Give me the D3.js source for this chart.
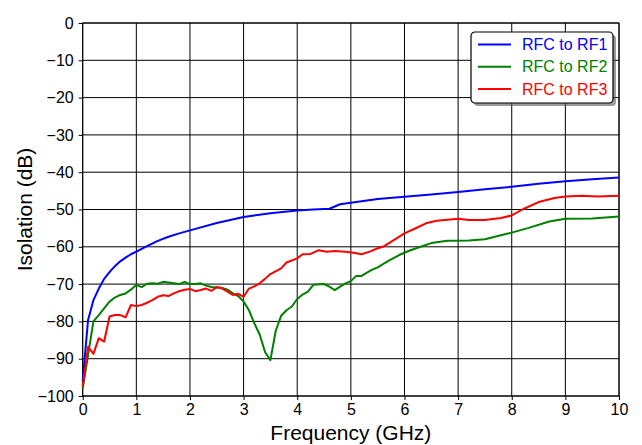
<!DOCTYPE html>
<html>
<head>
<meta charset="utf-8">
<script src="https://cdn.jsdelivr.net/npm/d3@7"></script>
<style>
  body { margin: 0; background: #fff; }
  svg { font-family: Arial, 'Liberation Sans', sans-serif; }
</style>
</head>
<body>
<svg id="chart" width="642" height="445"></svg>
<script>
const xTicks = [0, 1, 2, 3, 4, 5, 6, 7, 8, 9, 10];
const yTicks = [0, -10, -20, -30, -40, -50, -60, -70, -80, -90, -100];

const seriesNames = ['RFC to RF1', 'RFC to RF2', 'RFC to RF3'];
const seriesColors = ['#0000ff', '#008000', '#ff0000'];

const freqRF1 = [0, 0.1, 0.2, 0.3, 0.4, 0.5, 0.6, 0.7, 0.8, 0.9, 1.0, 1.2, 1.4, 1.6, 1.8, 2.0,
  2.5, 3.0, 3.5, 4.0, 4.3, 4.6, 4.8, 5.0, 5.5, 6.0, 6.5, 7.0, 7.5, 8.0, 8.5, 9.0, 9.5, 10];
const isoRF1 = [-96, -79.6, -74.3, -71.2, -68.6, -66.8, -65.2, -63.9, -62.9, -62, -61.3, -59.8, -58.4, -57.3, -56.4, -55.6,
  -53.6, -52, -51, -50.3, -50, -49.8, -48.6, -48.2, -47.2, -46.6, -46, -45.3, -44.6, -43.9, -43.1, -42.4, -41.9, -41.4];

const freqRF2 = [0, 0.1, 0.2, 0.3, 0.4, 0.5, 0.6, 0.7, 0.8, 0.9, 1.0, 1.1, 1.2, 1.3, 1.4, 1.5, 1.6, 1.7, 1.8, 1.9,
  2.0, 2.1, 2.2, 2.3, 2.4, 2.5, 2.6, 2.7, 2.8, 2.9, 3.0, 3.1, 3.2, 3.3, 3.4, 3.5, 3.6, 3.7, 3.8, 3.9,
  4.0, 4.1, 4.2, 4.3, 4.5, 4.6, 4.7, 4.8, 4.9, 5.0, 5.1, 5.2, 5.3, 5.4, 5.5, 5.7, 5.9, 6.1, 6.3, 6.5,
  6.8, 7.2, 7.5, 7.8, 8.0, 8.3, 8.7, 9.0, 9.5, 10];
const isoRF2 = [-98, -89, -80, -78.3, -76.5, -74.7, -73.6, -72.9, -72.5, -71.5, -70.2, -70.8, -69.9, -69.8, -69.9, -69.4, -69.6, -69.8, -70, -69.4,
  -70, -70, -69.8, -70.4, -70.8, -70.9, -71, -71.5, -72.5, -73.2, -74.7, -77, -80.5, -83.5, -88.2, -90.4, -82.5, -78.5, -77, -76,
  -74, -72.8, -72, -70.2, -70, -70.7, -71.6, -70.7, -69.8, -69.2, -67.8, -67.8, -66.9, -66.1, -65.5, -63.8, -62.2, -61, -60, -59,
  -58.4, -58.3, -58, -56.9, -56.2, -55, -53.2, -52.5, -52.4, -51.9];

const freqRF3 = [0, 0.1, 0.2, 0.3, 0.4, 0.5, 0.6, 0.7, 0.8, 0.9, 1.0, 1.1, 1.2, 1.3, 1.4, 1.5, 1.6, 1.7, 1.8, 1.9,
  2.0, 2.1, 2.2, 2.3, 2.4, 2.5, 2.6, 2.7, 2.8, 2.9, 3.0, 3.1, 3.2, 3.3, 3.4, 3.5, 3.7, 3.8, 4.0, 4.1,
  4.25, 4.4, 4.55, 4.7, 4.9, 5.05, 5.2, 5.35, 5.5, 5.6, 5.8, 6.0, 6.2, 6.4, 6.6, 7.0, 7.2, 7.5, 7.8, 8.0,
  8.2, 8.5, 8.8, 9.0, 9.3, 9.6, 10];
const isoRF3 = [-97.5, -86.8, -88.7, -84.5, -85.4, -78.7, -78.3, -78.3, -78.9, -75.6, -75.9, -75.6, -75, -74.3, -73.4, -73, -73.2, -72.5, -71.9, -71.5,
  -71.3, -71.9, -71.6, -71.2, -71.8, -70.8, -71.2, -72, -72.9, -72.6, -73.4, -71.2, -70.6, -69.8, -68.6, -67.3, -65.8, -64.2, -63.1, -62,
  -61.9, -60.9, -61.3, -61.1, -61.3, -61.6, -62, -61.3, -60.4, -60, -58.2, -56.4, -55.1, -53.7, -53, -52.5, -52.8, -52.8, -52.3, -51.6,
  -50, -48, -46.9, -46.5, -46.3, -46.5, -46.3];

const series = [
  { freq: freqRF1, iso: isoRF1 },
  { freq: freqRF2, iso: isoRF2 },
  { freq: freqRF3, iso: isoRF3 }
];

const svg = d3.select('#chart');
const marginLeft = 82.7;
const marginTop = 23;
const width = 619 - marginLeft;
const height = 396 - marginTop;

const chart = svg.append('g')
  .attr('transform', `translate(${marginLeft}, ${marginTop})`);

const xRange = d3.scaleLinear().domain([0, 10]).range([0, width]);
const yRange = d3.scaleLinear().domain([-100, 0]).range([height, 0]);

// grid
chart.append('g')
  .selectAll('line')
  .data(xTicks)
  .enter()
  .append('line')
  .attr('x1', d => xRange(d)).attr('x2', d => xRange(d))
  .attr('y1', 0).attr('y2', height)
  .style('stroke', '#000').style('stroke-width', 1);

chart.append('g')
  .selectAll('line')
  .data(yTicks)
  .enter()
  .append('line')
  .attr('y1', d => yRange(d)).attr('y2', d => yRange(d))
  .attr('x1', 0).attr('x2', width)
  .style('stroke', '#000').style('stroke-width', 1);

// axes
const xAxis = chart.append('g')
  .attr('transform', `translate(0, ${height})`)
  .call(d3.axisBottom(xRange).tickValues(xTicks).tickSize(4).tickPadding(4).tickFormat(d3.format('d')));

const yAxis = chart.append('g')
  .call(d3.axisLeft(yRange).tickValues(yTicks).tickSize(4).tickPadding(5).tickFormat(d => d === 0 ? '0' : '\u2212' + Math.abs(d)));

[xAxis, yAxis].forEach(ax => {
  ax.select('.domain').remove();
  ax.selectAll('text').style('font-size', '16px').style('fill', '#000')
    .style('font-family', "Arial, 'Liberation Sans', sans-serif");
  ax.selectAll('line').style('stroke', '#000');
});

chart.append('rect')
  .attr('width', width).attr('height', height)
  .style('fill', 'none').style('stroke', '#000').style('stroke-width', 1);

// curves
const line = d3.line()
  .x(d => xRange(d[0]))
  .y(d => yRange(d[1]));

series.forEach((s, i) => {
  chart.append('path')
    .datum(s.freq.map((f, k) => [f, s.iso[k]]))
    .attr('d', line)
    .style('fill', 'none')
    .style('stroke', seriesColors[i])
    .style('stroke-width', 2)
    .style('stroke-linejoin', 'round');
});

// axis titles
svg.append('text')
  .attr('x', marginLeft + width / 2).attr('y', 440)
  .attr('text-anchor', 'middle')
  .style('font-size', '21px')
  .text('Frequency (GHz)');

svg.append('text')
  .attr('transform', `translate(32, ${marginTop + height / 2}) rotate(-90)`)
  .attr('text-anchor', 'middle')
  .style('font-size', '21px')
  .text('Isolation (dB)');

// legend
const legend = svg.append('g').attr('transform', 'translate(471, 32)');
legend.append('rect')
  .attr('x', 3).attr('y', 3).attr('width', 142).attr('height', 71).attr('rx', 4)
  .style('fill', '#555').style('opacity', 0.6);
legend.append('rect')
  .attr('width', 142).attr('height', 71).attr('rx', 4)
  .style('fill', '#fff').style('stroke', '#000').style('stroke-width', 1.2);

seriesNames.forEach((name, i) => {
  const y = 12.5 + i * 22.3;
  legend.append('line')
    .attr('x1', 7).attr('x2', 40).attr('y1', y).attr('y2', y)
    .style('stroke', seriesColors[i]).style('stroke-width', 2);
  legend.append('text')
    .attr('x', 51).attr('y', y + 5.5)
    .style('font-size', '16px')
    .style('fill', seriesColors[i])
    .text(name);
});
</script>
</body>
</html>
